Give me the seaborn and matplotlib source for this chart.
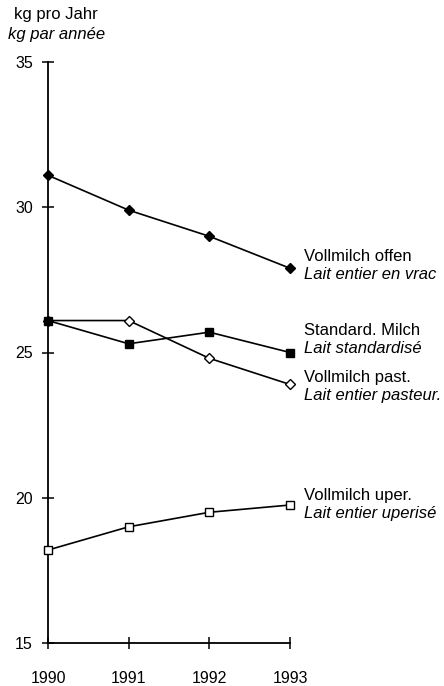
import matplotlib
matplotlib.use("Agg")
import matplotlib.pyplot as plt
import seaborn as sns
import pandas as pd

# Milk consumption per capita, kg per year
years = [1990, 1991, 1992, 1993]
vollmilch_offen = [31.1, 29.9, 29.0, 27.9]
standard_milch = [26.1, 25.3, 25.7, 25.0]
vollmilch_past = [26.1, 26.1, 24.8, 23.9]
vollmilch_uper = [18.2, 19.0, 19.5, 19.75]

series_names = ["Vollmilch offen", "Standard. Milch", "Vollmilch past.", "Vollmilch uper."]
series_names_fr = ["Lait entier en vrac", "Lait standardisé",
                   "Lait entier pasteur.", "Lait entier uperisé"]
series_values = [vollmilch_offen, standard_milch, vollmilch_past, vollmilch_uper]

y_ticks = [15, 20, 25, 30, 35]

df = pd.DataFrame({
    "year": years * len(series_names),
    "value": sum(series_values, []),
    "series": [s for s in series_names for _ in years],
})

sns.set_style("white")
plt.rcParams["font.family"] = ["Liberation Sans", "DejaVu Sans"]
plt.rcParams["text.color"] = "black"
plt.rcParams["xtick.color"] = "black"
plt.rcParams["ytick.color"] = "black"

W, H = 444, 686
fig = plt.figure(figsize=(W / 100, H / 100), dpi=100)
ax = fig.add_axes([48 / W, 1 - 643 / H, (290 - 48) / W, (643 - 62) / H])

marker_styles = {
    "Vollmilch offen": dict(marker="D", markersize=5.0, markerfacecolor="black", zorder=3),
    "Standard. Milch": dict(marker="s", markersize=6.0, markerfacecolor="black", zorder=4),
    "Vollmilch past.": dict(marker="D", markersize=5.0, markerfacecolor="white", zorder=3),
    "Vollmilch uper.": dict(marker="s", markersize=6.0, markerfacecolor="white", zorder=3),
}

for name in series_names:
    sub = df[df["series"] == name]
    sns.lineplot(data=sub, x="year", y="value", ax=ax, color="black",
                 linewidth=1.2, markeredgecolor="black", markeredgewidth=1.0,
                 clip_on=False, **marker_styles[name])

ax.set_xlim(1990, 1993)
ax.set_ylim(15, 35)
ax.set_xticks(years)
ax.set_xticklabels([str(y) for y in years])
ax.set_yticks(y_ticks)
ax.set_yticklabels([str(t) for t in y_ticks])
ax.set_xlabel("")
ax.set_ylabel("")

for side in ("top", "right"):
    ax.spines[side].set_visible(False)
for side in ("left", "bottom"):
    ax.spines[side].set_linewidth(1.3)
    ax.spines[side].set_color("black")

ax.tick_params(axis="both", direction="inout", length=8, width=1.1,
               color="black", labelsize=11.5, labelcolor="black",
               bottom=True, left=True)
ax.tick_params(axis="x", pad=16)
ax.tick_params(axis="y", pad=7)

# Series labels to the right of the last point
label_offsets = {
    "Vollmilch offen": (14, 12),
    "Standard. Milch": (14, 22),
    "Vollmilch past.": (14, 7),
    "Vollmilch uper.": (14, 10),
}
for name, name_fr, vals in zip(series_names, series_names_fr, series_values):
    dx, dy = label_offsets[name]
    ax.annotate(name, xy=(years[-1], vals[-1]), xytext=(dx, dy),
                textcoords="offset pixels", ha="left", va="center",
                fontsize=12, color="black", annotation_clip=False)
    ax.annotate(name_fr, xy=(years[-1], vals[-1]), xytext=(dx, dy - 18),
                textcoords="offset pixels", ha="left", va="center",
                fontsize=12, style="italic", color="black", annotation_clip=False)

# Unit labels above the y axis
fig.text(56 / W, 1 - 15 / H, "kg pro Jahr", ha="center", va="center",
         fontsize=12, color="black")
fig.text(57 / W, 1 - 35 / H, "kg par année", ha="center", va="center",
         fontsize=12, style="italic", color="black")

fig.savefig("out.png", dpi=100)
